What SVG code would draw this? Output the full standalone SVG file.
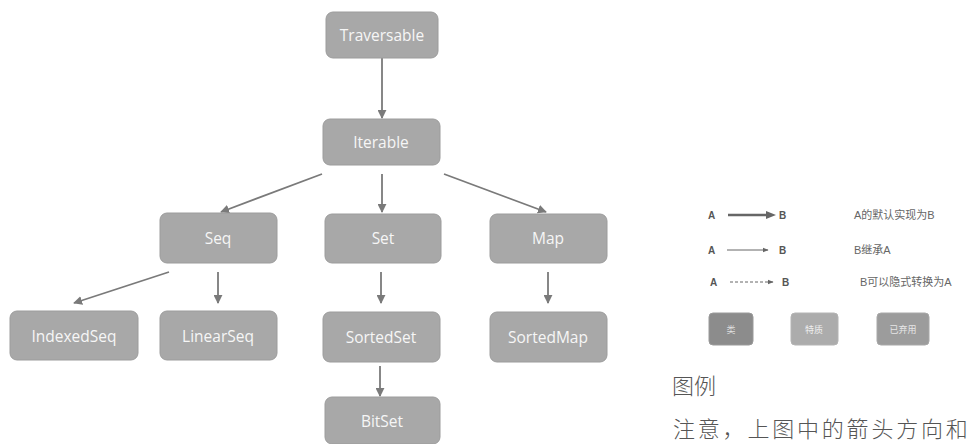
<svg xmlns="http://www.w3.org/2000/svg" width="971" height="444" viewBox="0 0 971 444">
<defs>
<style>
.node rect{fill:#a8a8a8;stroke:#9c9c9c;stroke-width:1}
.node text{font-family:"Open Sans","Liberation Sans",sans-serif;font-size:15.5px;fill:#f6f6f6;text-anchor:middle;dominant-baseline:central}
.conn line{stroke:#7a7a7a;stroke-width:1.8;fill:none}
.lg{font-family:"Liberation Sans","Noto Sans CJK SC",sans-serif;font-size:10px;fill:#555;font-weight:bold}
.lt{font-family:"Liberation Sans","Noto Sans CJK SC",sans-serif;font-size:11px;fill:#666}
.cn{font-family:"Noto Sans CJK SC",sans-serif;fill:#555;font-weight:300}
</style>
<marker id="ah" viewBox="0 0 10 10" refX="9" refY="5" markerWidth="5" markerHeight="5" orient="auto" markerUnits="strokeWidth">
<path d="M0,0 L10,5 L0,10 z" fill="#7a7a7a"/>
</marker>
<marker id="ahs" viewBox="0 0 10 10" refX="9" refY="5" markerWidth="6" markerHeight="6" orient="auto" markerUnits="userSpaceOnUse">
<path d="M0,1 L10,5 L0,9 z" fill="#666"/>
</marker>
</defs>
<rect width="971" height="444" fill="#ffffff"/>
<g id="connectors" class="conn">
<line x1="382" y1="58" x2="382" y2="118" marker-end="url(#ah)"/>
<line x1="322" y1="174" x2="221" y2="212" marker-end="url(#ah)"/>
<line x1="382" y1="174" x2="382" y2="212" marker-end="url(#ah)"/>
<line x1="444" y1="174" x2="546" y2="212" marker-end="url(#ah)"/>
<line x1="169" y1="272" x2="74" y2="303" marker-end="url(#ah)"/>
<line x1="218" y1="272" x2="218" y2="303" marker-end="url(#ah)"/>
<line x1="381" y1="272" x2="381" y2="303" marker-end="url(#ah)"/>
<line x1="548" y1="272" x2="548" y2="303" marker-end="url(#ah)"/>
<line x1="380" y1="366" x2="380" y2="396" marker-end="url(#ah)"/>
</g>
<g id="Traversable" class="node"><rect x="326" y="12" width="112" height="46" rx="7"/><text x="382" y="35">Traversable</text></g>
<g id="Iterable" class="node"><rect x="323" y="119" width="117" height="46" rx="7"/><text x="381" y="142">Iterable</text></g>
<g id="Seq" class="node"><rect x="160" y="213" width="117" height="50" rx="7"/><text x="218" y="238">Seq</text></g>
<g id="Set" class="node"><rect x="325" y="214" width="116" height="49" rx="7"/><text x="383" y="238">Set</text></g>
<g id="Map" class="node"><rect x="490" y="214" width="117" height="49" rx="7"/><text x="548" y="238">Map</text></g>
<g id="IndexedSeq" class="node"><rect x="10" y="311" width="128" height="49" rx="7"/><text x="74" y="336">IndexedSeq</text></g>
<g id="LinearSeq" class="node"><rect x="160" y="311" width="117" height="49" rx="7"/><text x="218" y="336">LinearSeq</text></g>
<g id="SortedSet" class="node"><rect x="323" y="312" width="117" height="50" rx="7"/><text x="381" y="337">SortedSet</text></g>
<g id="SortedMap" class="node"><rect x="490" y="312" width="117" height="50" rx="7"/><text x="548" y="337">SortedMap</text></g>
<g id="BitSet" class="node"><rect x="325" y="397" width="115" height="47" rx="7"/><text x="382" y="421">BitSet</text></g>
<g id="legend">
<text class="lg" x="708" y="219">A</text>
<line x1="728" y1="215" x2="770" y2="215" stroke="#666" stroke-width="2.5"/>
<path d="M766,211 L776,215 L766,219 z" fill="#666"/>
<text class="lg" x="779" y="219">B</text>
<text class="lt" x="854" y="219">A的默认实现为B</text>
<text class="lg" x="708" y="254">A</text>
<line x1="727" y1="250" x2="768" y2="250" stroke="#666" stroke-width="1" marker-end="url(#ahs)"/>
<text class="lg" x="779" y="254">B</text>
<text class="lt" x="854" y="254">B继承A</text>
<text class="lg" x="710" y="286">A</text>
<line x1="730" y1="282" x2="773" y2="282" stroke="#666" stroke-width="1" stroke-dasharray="3,2" marker-end="url(#ahs)"/>
<text class="lg" x="782" y="286">B</text>
<text class="lt" x="860" y="286">B可以隐式转换为A</text>
<rect x="709" y="313" width="44" height="32" rx="4" fill="#8c8c8c" stroke="#9a9a9a"/>
<text x="731" y="333" font-family="Noto Sans CJK SC,sans-serif" font-size="9" fill="#ddd" text-anchor="middle">类</text>
<rect x="791" y="313" width="47" height="32" rx="4" fill="#acacac" stroke="#b4b4b4"/>
<text x="814" y="333" font-family="Noto Sans CJK SC,sans-serif" font-size="9" fill="#eee" text-anchor="middle">特质</text>
<rect x="877" y="313" width="52" height="32" rx="4" fill="#9c9c9c" stroke="#a8a8a8"/>
<text x="903" y="333" font-family="Noto Sans CJK SC,sans-serif" font-size="9" fill="#e6e6e6" text-anchor="middle">已弃用</text>
<text class="cn" x="672" y="394" font-size="22">图例</text>
</g>
<text class="cn" x="673" y="437" font-size="22" letter-spacing="2.8">注意，上图中的箭头方向和</text>
</svg>
